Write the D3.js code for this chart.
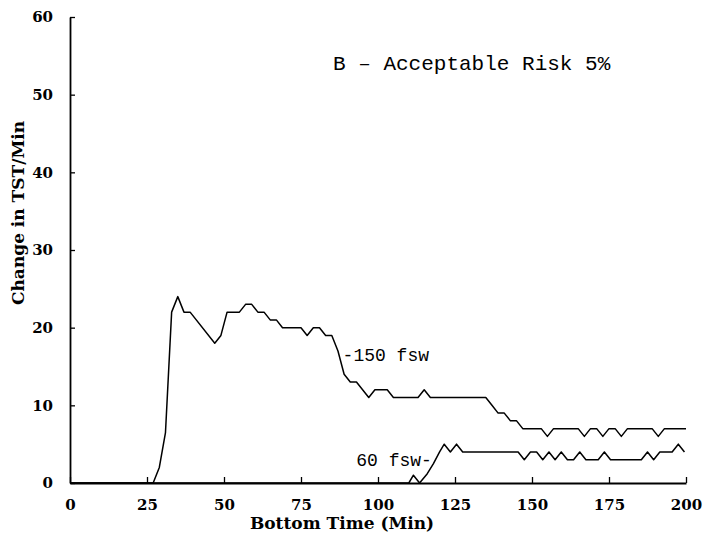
<!DOCTYPE html>
<html>
<head>
<meta charset="utf-8">
<script src="https://cdn.jsdelivr.net/npm/d3@7"></script>
<style>
  html, body { margin: 0; padding: 0; background: #fff; }
  svg { display: block; }
</style>
</head>
<body>
<svg id="chart" width="707" height="544"></svg>
<script>
// ---- data ----
const xTicks = [0, 25, 50, 75, 100, 125, 150, 175, 200];
const yTicks = [0, 10, 20, 30, 40, 50, 60];

const series150Time = [0, 27, 29, 31, 33, 35, 37, 39, 47, 49, 51, 55, 57, 59, 61, 63, 65, 67, 69, 75, 77, 79, 81, 83, 85, 87, 89, 91, 93, 97, 99, 103, 105, 113, 115, 117, 135, 137, 139, 141, 143, 145, 147, 153, 155, 157, 165, 167, 169, 171, 173, 175, 177, 179, 181, 189, 191, 193, 200];
const series150Value = [0, 0, 2, 6.5, 22, 24, 22, 22, 18, 19, 22, 22, 23, 23, 22, 22, 21, 21, 20, 20, 19, 20, 20, 19, 19, 17, 14, 13, 13, 11, 12, 12, 11, 11, 12, 11, 11, 10, 9, 9, 8, 8, 7, 7, 6, 7, 7, 6, 7, 7, 6, 7, 7, 6, 7, 7, 6, 7, 7];

const series60Time = [0, 110, 111.5, 113.5, 116, 118, 120, 121.5, 123.5, 125.5, 127.5, 145.5, 147.5, 149.5, 151.5, 153.5, 155.5, 157.5, 159.5, 161.5, 163.5, 165.5, 167.5, 171.5, 173.5, 175.5, 185.5, 187.5, 189.5, 191.5, 195.5, 197.5, 199.5];
const series60Value = [0, 0, 1, 0, 1.2, 2.5, 4, 5, 4, 5, 4, 4, 3, 4, 4, 3, 4, 3, 4, 3, 3, 4, 3, 3, 4, 3, 3, 4, 3, 4, 4, 5, 4];

const titleText = "B \u2013 Acceptable Risk 5%";
const label150 = "-150 fsw";
const label60 = "60 fsw-";
const xLabel = "Bottom Time (Min)";
const yLabel = "Change in TST/Min";

// ---- chart ----
const svg = d3.select("#chart");
const x = d3.scaleLinear().domain([0, 200]).range([70, 686]);
const y = d3.scaleLinear().domain([0, 60]).range([483, 17]);

const tickFont = "'DejaVu Serif', serif";

const xAxis = svg.append("g")
  .attr("transform", `translate(0,${y(0)})`)
  .call(d3.axisBottom(x).tickValues(xTicks).tickSizeInner(-6).tickSizeOuter(0).tickPadding(16).tickFormat(d3.format("d")));
const yAxis = svg.append("g")
  .attr("transform", `translate(${x(0)},0)`)
  .call(d3.axisLeft(y).tickValues(yTicks).tickSizeInner(-5).tickSizeOuter(0).tickPadding(17).tickFormat(d3.format("d")));

[xAxis, yAxis].forEach(g => {
  g.select(".domain").attr("stroke", "#000").attr("stroke-width", 1.8);
  g.selectAll(".tick line").attr("stroke", "#000").attr("stroke-width", 1.3);
  g.selectAll(".tick text")
    .attr("fill", "#000")
    .style("font-family", tickFont)
    .style("font-weight", "bold")
    .style("font-size", "15px");
});

const line = d3.line().x(d => x(d[0])).y(d => y(d[1]));

const data150 = series150Time.map((t, i) => [t, series150Value[i]]);
const data60 = series60Time.map((t, i) => [t, series60Value[i]]);

svg.append("path").datum(data150)
  .attr("d", line).attr("fill", "none").attr("stroke", "#000").attr("stroke-width", 1.5)
  .attr("stroke-linejoin", "round");
svg.append("path").datum(data60)
  .attr("d", line).attr("fill", "none").attr("stroke", "#000").attr("stroke-width", 1.5)
  .attr("stroke-linejoin", "round");

// series labels
svg.append("text")
  .attr("x", x(88.5)).attr("y", y(16.5)).attr("dy", "0.35em")
  .style("font-family", "'Liberation Mono', monospace")
  .style("font-size", "18px")
  .attr("fill", "#000")
  .text(label150);
svg.append("text")
  .attr("x", x(117.5)).attr("y", y(3)).attr("dy", "0.35em")
  .attr("text-anchor", "end")
  .style("font-family", "'Liberation Mono', monospace")
  .style("font-size", "18px")
  .attr("fill", "#000")
  .text(label60);

// title
svg.append("text")
  .attr("x", 333).attr("y", 70)
  .style("font-family", "'Liberation Mono', monospace")
  .style("font-size", "21px")
  .attr("fill", "#000")
  .text(titleText);

// axis labels
svg.append("text")
  .attr("x", 342).attr("y", 529)
  .attr("text-anchor", "middle")
  .style("font-family", tickFont)
  .style("font-weight", "bold")
  .style("font-size", "17px")
  .attr("fill", "#000")
  .text(xLabel);
svg.append("text")
  .attr("transform", "translate(24,213) rotate(-90)")
  .attr("text-anchor", "middle")
  .style("font-family", tickFont)
  .style("font-weight", "bold")
  .style("font-size", "17px")
  .attr("fill", "#000")
  .text(yLabel);
</script>
</body>
</html>
